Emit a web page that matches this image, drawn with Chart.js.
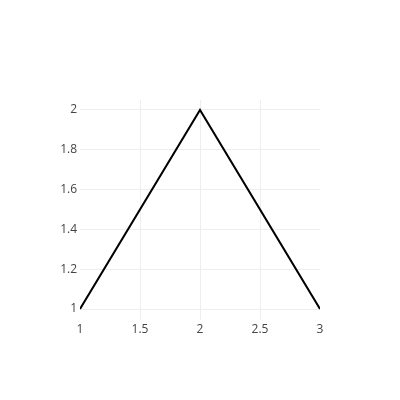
<!DOCTYPE html>
<html>
<head>
<meta charset="utf-8">
<script src="https://cdn.jsdelivr.net/npm/chart.js@4"></script>
<style>
    html, body { margin: 0; padding: 0; background: #fff; }
    #wrap { width: 400px; height: 400px; }
</style>
</head>
<body>
<div id="wrap"><canvas id="lineChart" width="400" height="400"></canvas></div>
<script>
// values
const xValues = [1, 2, 3];
const yValues = [1, 2, 1];
const xTicks = [1, 1.5, 2, 2.5, 3];
const yTicks = [1, 1.2, 1.4, 1.6, 1.8, 2];

const points = xValues.map((x, i) => ({ x: x, y: yValues[i] }));
const gridColor = '#eeeeee';
const tickFont = { family: '"Open Sans", sans-serif', size: 12 };
const plainLabel = v => String(Math.round(v * 100) / 100);

const ctx = document.getElementById('lineChart').getContext('2d');
const lineChart = new Chart(ctx, {
    type: 'scatter', data: {
        datasets: [{
            data: points,
            showLine: true,
            borderColor: '#000000',
            borderWidth: 2,
            pointRadius: 0,
            fill: false
        }]
    }, options: {
        responsive: false, animation: false,
        layout: { padding: { left: 40, right: 80, top: 100, bottom: 50 } },
        plugins: { legend: { display: false }, tooltip: { enabled: false } },
        scales: {
            x: {
                type: 'linear', min: 1, max: 3,
                afterBuildTicks: scale => { scale.ticks = xTicks.map(v => ({ value: v })); },
                afterFit: scale => { scale.height = 30; },
                grid: {
                    drawTicks: false,
                    // no vertical line on the plot edges
                    color: c => (c.tick && (c.tick.value === 1 || c.tick.value === 3)) ? 'rgba(0,0,0,0)' : gridColor
                },
                border: { display: false },
                ticks: { color: '#444444', font: tickFont, padding: 2, maxRotation: 0, callback: plainLabel }
            },
            y: {
                type: 'linear', min: 0.945, max: 2.05,
                afterBuildTicks: scale => { scale.ticks = yTicks.map(v => ({ value: v })); },
                afterFit: scale => { scale.width = 40; },
                grid: { color: gridColor, drawTicks: false },
                border: { display: false },
                ticks: { color: '#444444', font: tickFont, padding: 3, callback: plainLabel }
            }
        }
    }
});
</script>
</body>
</html>
